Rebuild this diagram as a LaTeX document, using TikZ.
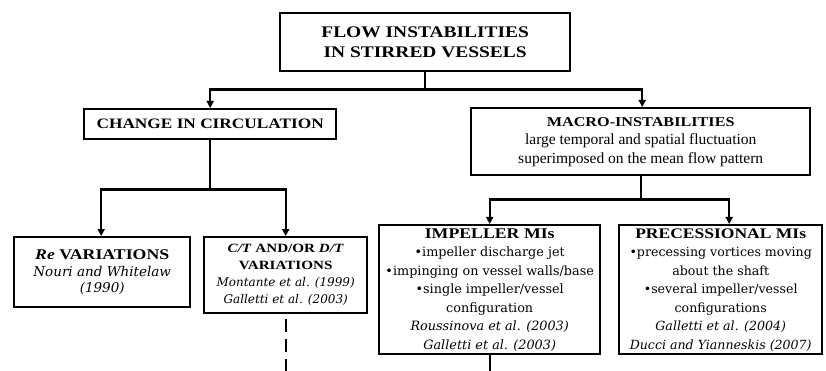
\documentclass[tikz,border=0pt]{standalone}
\usepackage{fontspec}
\setmainfont{Liberation Serif}
\newfontfamily\headfont{Liberation Serif}[FakeStretch=1.2]
\newfontfamily\citefont{DejaVu Serif}
\usetikzlibrary{arrows.meta, positioning, calc}

\begin{document}
\begin{tikzpicture}[x=1pt, y=-1pt,
  >={Triangle[length=7pt, width=7pt]},
  box/.style={draw, line width=2.4pt, align=center, inner sep=0pt, anchor=north west},
  conn/.style={line width=2.4pt},
  hd/.style={font=\headfont\bfseries\fontsize{#1}{#1}\selectfont},
  bodytxt/.style={font=\citefont\fontsize{#1}{18.5}\selectfont}
]
\useasboundingbox (0,0) rectangle (826,371);

% levels 0 and 1
\node[box, minimum width=290pt, minimum height=58pt, font=\headfont\bfseries\fontsize{16.2}{20}\selectfont] (top) at (279,12)
  {FLOW INSTABILITIES\\IN STIRRED VESSELS};
\node[box, minimum width=252pt, minimum height=30pt, hd=14.4] (change) at (83,108)
  {CHANGE IN CIRCULATION};
\node[box, minimum width=339pt, minimum height=67pt, font=\fontsize{15.5}{18.5}\selectfont] (macro) at (470,107)
  {{\headfont\bfseries\fontsize{13.5}{13.5}\selectfont MACRO-INSTABILITIES}\\
   large temporal and spatial fluctuation\\
   superimposed on the mean flow pattern};

% level 2
\node[box, minimum width=176pt, minimum height=70pt, font=\citefont\itshape\fontsize{13.5}{16.5}\selectfont] (re) at (13,236)
  {{\headfont\bfseries\upshape\fontsize{14.8}{14.8}\selectfont\textit{Re} VARIATIONS}\\
   Nouri and Whitelaw\\(1990)};
\node[box, minimum width=163pt, minimum height=76pt, font=\citefont\itshape\fontsize{12}{17}\selectfont] (ctdt) at (203,236)
  {{\headfont\bfseries\upshape\fontsize{12.6}{12.6}\selectfont\textit{C/T} AND/OR \textit{D/T}}\\
   {\headfont\bfseries\upshape\fontsize{12.6}{12.6}\selectfont VARIATIONS}\\
   Montante et al. (1999)\\Galletti et al. (2003)};
\node[box, minimum width=221pt, minimum height=129pt, bodytxt=12.8] (impeller) at (378,224)
  {{\headfont\bfseries\fontsize{14.8}{14.8}\selectfont IMPELLER MIs}\\
   •impeller discharge jet\\
   •impinging on vessel walls/base\\
   •single impeller/vessel\\
   configuration\\
   {\itshape Roussinova et al. (2003)}\\
   {\itshape Galletti et al. (2003)}};
\node[box, minimum width=203pt, minimum height=129pt, bodytxt=12.6] (precess) at (618,224)
  {{\headfont\bfseries\fontsize{14.6}{14.6}\selectfont PRECESSIONAL MIs}\\
   •precessing vortices moving\\
   about the shaft\\
   •several impeller/vessel\\
   configurations\\
   {\itshape Galletti et al. (2004)}\\
   {\itshape Ducci and Yianneskis (2007)}};

% connectors
\draw[conn] (top.south) -- ++(0,17) coordinate (split0);
\draw[conn, ->] (split0) -| (change.north);
\draw[conn, ->] (split0) -| ($(macro.north)+(1.5,0)$);

\draw[conn] (change.south) -- ++(0,49) coordinate (split1);
\draw[conn, ->] (split1) -| ($(re.north)+(-1,0)$);
\draw[conn, ->] (split1) -| (ctdt.north);

\draw[conn] (macro.south) -- ++(0,23) coordinate (split2);
\draw[conn, ->] (split2) -| (impeller.north);
\draw[conn, ->] (split2) -| ($(precess.north)+(8.5,0)$);

% continuation stubs
\coordinate (ctdtend) at (ctdt.south |- 0,371);
\coordinate (impend) at (impeller.south |- 0,371);
\draw[conn, dash pattern=on 13pt off 7pt] ($(ctdt.south)+(0,5)$) -- (ctdtend);
\draw[conn] (impeller.south) -- (impend);
\end{tikzpicture}
\end{document}
